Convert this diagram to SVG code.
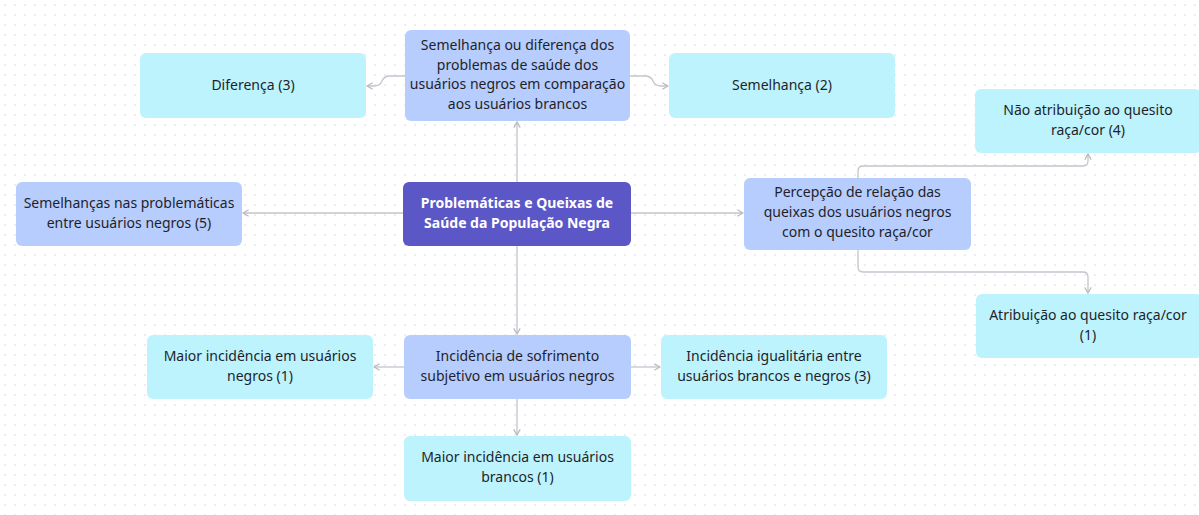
<svg xmlns="http://www.w3.org/2000/svg" width="1199" height="515" viewBox="0 0 1199 515">
<defs>
<pattern id="dots" x="0" y="0" width="10" height="10" patternUnits="userSpaceOnUse">
<circle cx="5" cy="5" r="0.8" fill="#d6d6da"/>
</pattern>
<marker id="arr" viewBox="0 0 10 10" refX="9" refY="5" markerWidth="8" markerHeight="8" orient="auto" markerUnits="userSpaceOnUse">
<path d="M2,1 L9,5 L2,9" fill="none" stroke="#b4b8c0" stroke-width="1.5"/>
</marker>
<style>
.c{fill:#bdf3fd}
.b{fill:#b7cdfd}
.m{fill:#5c57c6}
.t{font-family:"Noto Sans","Open Sans",sans-serif;font-size:14px;fill:#1e1f2b;text-anchor:middle}
.w{font-family:"Noto Sans","Open Sans",sans-serif;font-size:14px;font-weight:bold;fill:#ffffff;text-anchor:middle}
.e{fill:none;stroke:#c2c5cc;stroke-width:1.3;marker-end:url(#arr)}
</style>
</defs>
<rect width="1199" height="515" fill="#ffffff"/>
<rect width="1199" height="515" fill="url(#dots)"/>
<g id="connectors">
<path class="e" d="M517,182 V122"/>
<path class="e" d="M405,76 H390 Q384,76 382,81 Q380,86 374,86 H367"/>
<path class="e" d="M630,76 H645 Q651,76 653,81 Q655,86 661,86 H668"/>
<path class="e" d="M403,213 H243"/>
<path class="e" d="M631,213 H743"/>
<path class="e" d="M517,246 V334"/>
<path class="e" d="M858,178 V171 Q858,166 863,166 H1083 Q1088,166 1088,161 V154"/>
<path class="e" d="M858,250 V267 Q858,272 863,272 H1083 Q1088,272 1088,277 V293"/>
<path class="e" d="M404,367 H374"/>
<path class="e" d="M631,367 H660"/>
<path class="e" d="M517,399 V435"/>
</g>
<g id="n-top">
<rect class="b" x="405" y="30" width="225" height="91" rx="6"/>
<text class="t" x="517.5" y="50">Semelhança ou diferença dos</text>
<text class="t" x="517.5" y="69.5">problemas de saúde dos</text>
<text class="t" x="517.5" y="89">usuários negros em comparação</text>
<text class="t" x="517.5" y="108.5">aos usuários brancos</text>
</g>
<g id="n-diferenca">
<rect class="c" x="140" y="53" width="226" height="65" rx="6"/>
<text class="t" x="253" y="90">Diferença (3)</text>
</g>
<g id="n-semelhanca">
<rect class="c" x="669" y="53" width="226" height="65" rx="6"/>
<text class="t" x="782" y="90">Semelhança (2)</text>
</g>
<g id="n-semelhancas-nas">
<rect class="b" x="16" y="182" width="226" height="64" rx="6"/>
<text class="t" x="129" y="208">Semelhanças nas problemáticas</text>
<text class="t" x="129" y="228">entre usuários negros (5)</text>
</g>
<g id="n-center">
<rect class="m" x="403" y="182" width="228" height="64" rx="6"/>
<text class="w" x="517" y="208">Problemáticas e Queixas de</text>
<text class="w" x="517" y="228">Saúde da População Negra</text>
</g>
<g id="n-percepcao">
<rect class="b" x="744" y="178" width="227" height="72" rx="6"/>
<text class="t" x="857.5" y="197">Percepção de relação das</text>
<text class="t" x="857.5" y="217">queixas dos usuários negros</text>
<text class="t" x="857.5" y="237">com o quesito raça/cor</text>
</g>
<g id="n-nao-atribuicao">
<rect class="c" x="975" y="89" width="226" height="64" rx="6"/>
<text class="t" x="1088" y="115">Não atribuição ao quesito</text>
<text class="t" x="1088" y="135">raça/cor (4)</text>
</g>
<g id="n-atribuicao">
<rect class="c" x="976" y="294" width="226" height="64" rx="6"/>
<text class="t" x="1088" y="320">Atribuição ao quesito raça/cor</text>
<text class="t" x="1088" y="340">(1)</text>
</g>
<g id="n-incidencia">
<rect class="b" x="404" y="335" width="227" height="64" rx="6"/>
<text class="t" x="517.5" y="361">Incidência de sofrimento</text>
<text class="t" x="517.5" y="381">subjetivo em usuários negros</text>
</g>
<g id="n-maior-negros">
<rect class="c" x="147" y="335" width="226" height="64" rx="6"/>
<text class="t" x="260" y="361">Maior incidência em usuários</text>
<text class="t" x="260" y="381">negros (1)</text>
</g>
<g id="n-igualitaria">
<rect class="c" x="661" y="335" width="226" height="64" rx="6"/>
<text class="t" x="774" y="361">Incidência igualitária entre</text>
<text class="t" x="774" y="381">usuários brancos e negros (3)</text>
</g>
<g id="n-maior-brancos">
<rect class="c" x="404" y="436" width="227" height="65" rx="6"/>
<text class="t" x="517.5" y="462">Maior incidência em usuários</text>
<text class="t" x="517.5" y="482">brancos (1)</text>
</g>
</svg>
